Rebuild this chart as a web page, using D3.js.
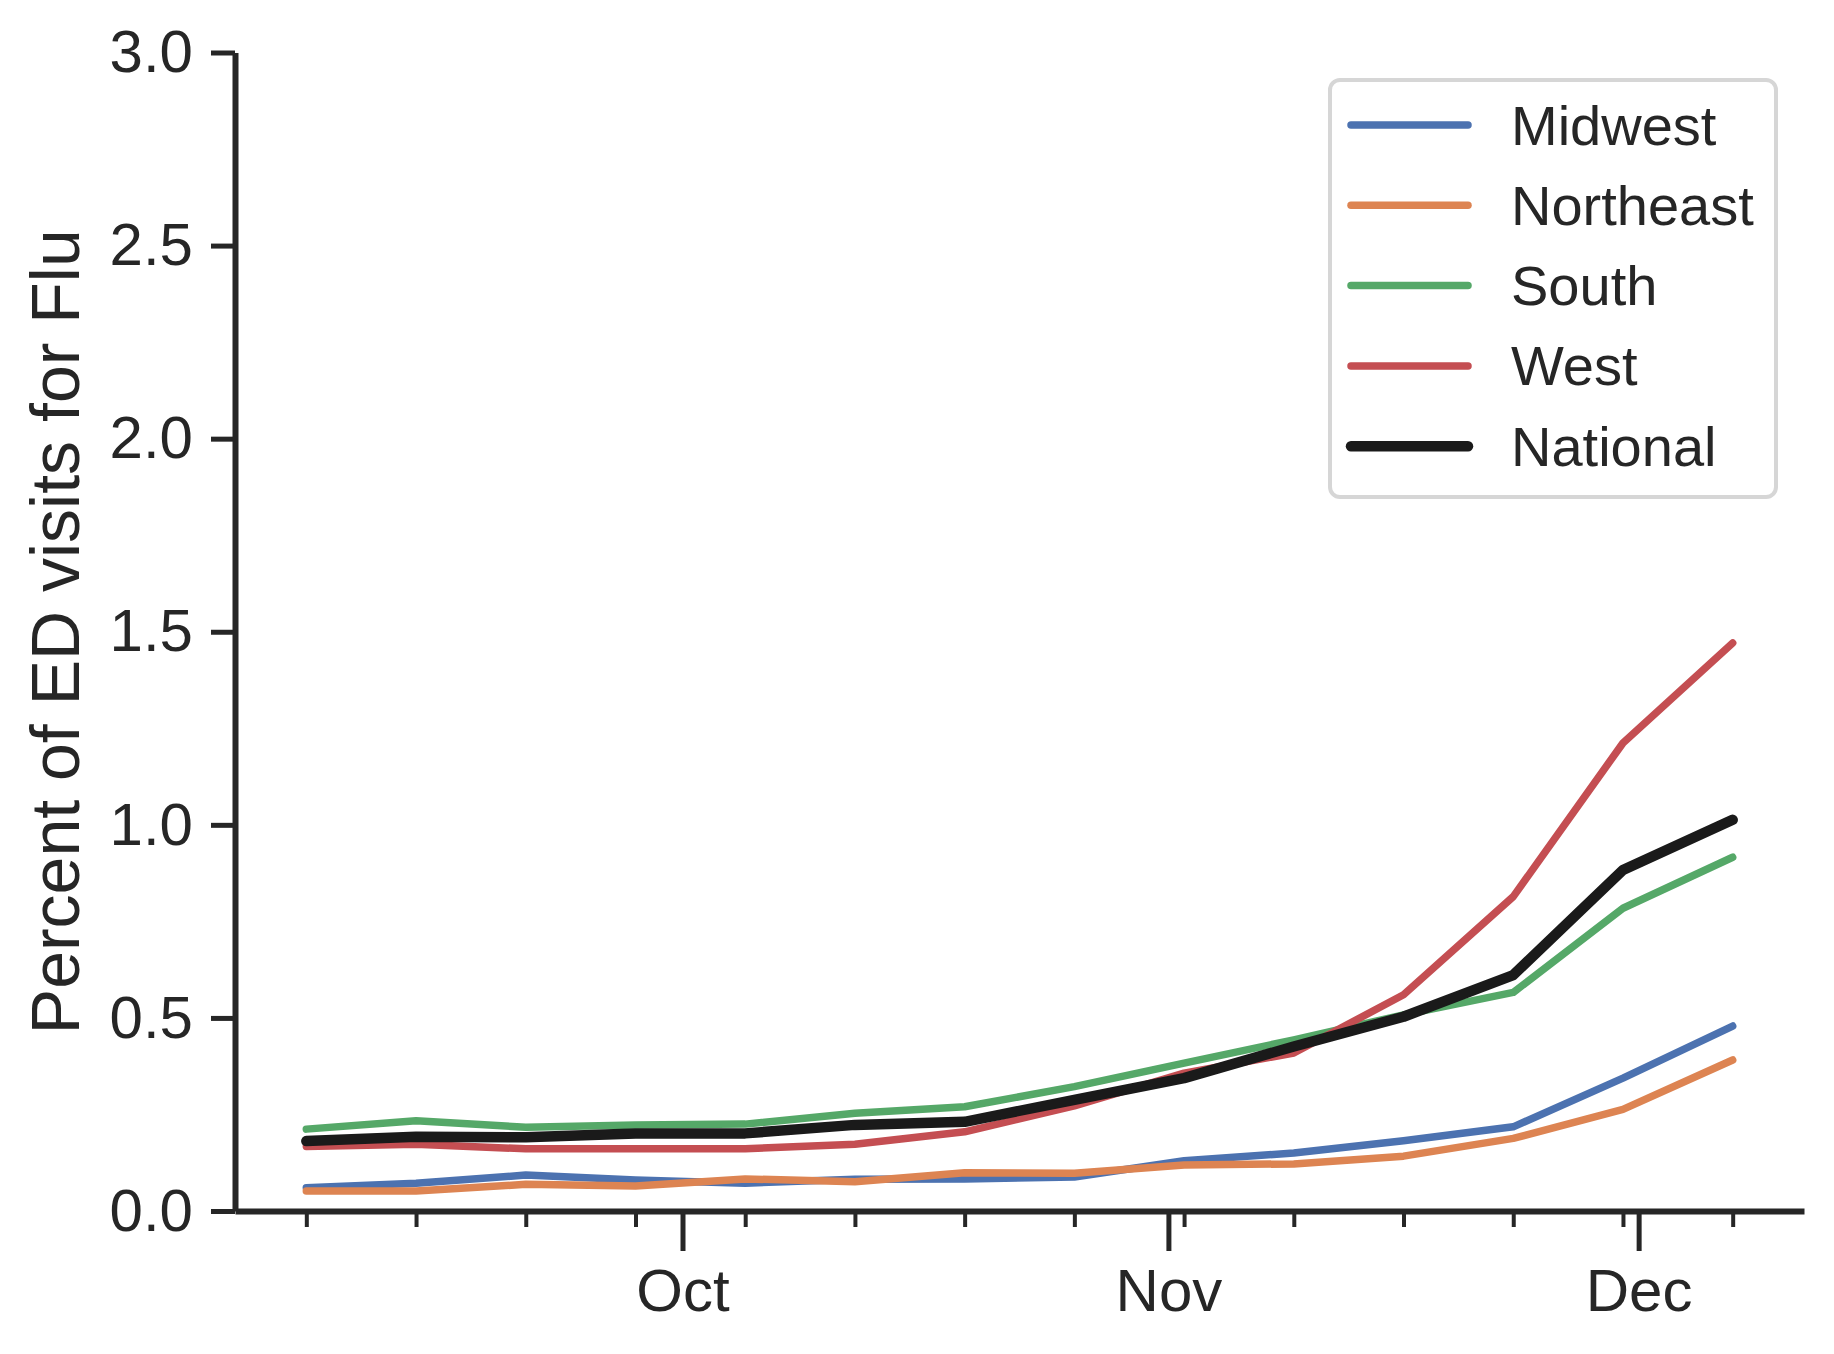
<!DOCTYPE html>
<html>
<head>
<meta charset="utf-8">
<script src="https://cdn.jsdelivr.net/npm/d3@7"></script>
<style>
  body { margin: 0; background: #fff; }
  svg { display: block; font-family: "Liberation Sans", Arial, sans-serif; }
</style>
</head>
<body>
<div id="chart"></div>
<script>
const width = 1834, height = 1354;

// weekly dates of the points
const weeks = ["2024-09-07", "2024-09-14", "2024-09-21", "2024-09-28", "2024-10-05", "2024-10-12", "2024-10-19",
               "2024-10-26", "2024-11-02", "2024-11-09", "2024-11-16", "2024-11-23", "2024-11-30", "2024-12-07"];
const monthTicks = ["2024-10-01", "2024-11-01", "2024-12-01"];
const yTicks = [0, 0.5, 1.0, 1.5, 2.0, 2.5, 3.0];

const regions = ["Midwest", "Northeast", "South", "West", "National"];
const midwest   = [0.060, 0.072, 0.093, 0.080, 0.072, 0.082, 0.083, 0.088, 0.130, 0.150, 0.182, 0.218, 0.344, 0.479];
const northeast = [0.052, 0.052, 0.069, 0.065, 0.083, 0.076, 0.099, 0.098, 0.119, 0.122, 0.142, 0.188, 0.263, 0.391];
const south     = [0.212, 0.234, 0.217, 0.223, 0.225, 0.253, 0.270, 0.322, 0.383, 0.443, 0.508, 0.566, 0.784, 0.916];
const west      = [0.167, 0.173, 0.161, 0.161, 0.161, 0.173, 0.205, 0.272, 0.357, 0.409, 0.560, 0.814, 1.212, 1.471];
const national  = [0.181, 0.192, 0.191, 0.201, 0.201, 0.223, 0.231, 0.288, 0.344, 0.426, 0.503, 0.611, 0.883, 1.013];

const colors = ["#4C72B0", "#DD8452", "#55A868", "#C44E52", "#1a1a1a"];
const widths = [7.5, 7.5, 7.5, 7.5, 10.5];
const textColor = "#262626";

const parse = d3.utcParse("%Y-%m-%d");
const dates = weeks.map(parse);
const series = [midwest, northeast, south, west, national].map((vals, i) => ({
    name: regions[i],
    color: colors[i],
    width: widths[i],
    values: vals.map((v, j) => ({ date: dates[j], value: v }))
}));

const margin = { left: 235, right: 30, top: 52.5, bottom: 143 };

// matplotlib style 5% margin on the time axis
const pad = (dates[dates.length - 1] - dates[0]) * 0.05;
const x = d3.scaleUtc()
    .domain([new Date(+dates[0] - pad), new Date(+dates[dates.length - 1] + pad)])
    .range([margin.left, width - margin.right]);

const y = d3.scaleLinear()
    .domain([0, 3])
    .range([height - margin.bottom, margin.top]);

const svg = d3.select("#chart").append("svg")
    .attr("width", width)
    .attr("height", height);

// lines
const line = d3.line()
    .x(d => x(d.date))
    .y(d => y(d.value));

svg.append("g")
    .selectAll("path")
    .data(series)
    .enter().append("path")
    .attr("d", d => line(d.values))
    .attr("fill", "none")
    .attr("stroke", d => d.color)
    .attr("stroke-width", d => d.width)
    .attr("stroke-linecap", "round")
    .attr("stroke-linejoin", "round");

// y axis
const yAxis = svg.append("g")
    .attr("transform", `translate(${margin.left},0)`)
    .call(d3.axisLeft(y).tickValues(yTicks).tickFormat(d3.format(".1f"))
        .tickSize(24).tickSizeOuter(0).tickPadding(18));

// minor weekly ticks
const xMinor = svg.append("g")
    .attr("transform", `translate(0,${y(0)})`)
    .call(d3.axisBottom(x).tickValues(dates).tickFormat("").tickSize(16).tickSizeOuter(0));
xMinor.select(".domain").remove();
xMinor.selectAll(".tick line").attr("stroke", textColor).attr("stroke-width", 4);

// month ticks
const xAxis = svg.append("g")
    .attr("transform", `translate(0,${y(0)})`)
    .call(d3.axisBottom(x).tickValues(monthTicks.map(parse)).tickFormat(d3.utcFormat("%b"))
        .tickSize(40).tickSizeOuter(0).tickPadding(17));

[yAxis, xAxis].forEach(g => {
    g.select(".domain").attr("stroke", textColor).attr("stroke-width", 6);
    g.selectAll(".tick line").attr("stroke", textColor).attr("stroke-width", 5);
    g.selectAll(".tick text").attr("fill", textColor).style("font-size", "60px");
});

// y label
svg.append("text")
    .attr("transform", `translate(55,${(y(0) + y(3)) / 2}) rotate(-90)`)
    .attr("text-anchor", "middle")
    .attr("dominant-baseline", "central")
    .attr("fill", textColor)
    .style("font-size", "68px")
    .text("Percent of ED visits for Flu");

// legend
const legend = svg.append("g").attr("transform", "translate(1330,80)");
legend.append("rect")
    .attr("width", 446)
    .attr("height", 417)
    .attr("rx", 10)
    .attr("fill", "#fff")
    .attr("fill-opacity", 0.8)
    .attr("stroke", "#d6d6d6")
    .attr("stroke-width", 4);

const item = legend.selectAll(".item")
    .data(series)
    .enter().append("g")
    .attr("class", "item")
    .attr("transform", (d, i) => `translate(0,${45 + i * 80.3})`);

item.append("line")
    .attr("x1", 21).attr("x2", 138)
    .attr("stroke", d => d.color)
    .attr("stroke-width", d => d.width)
    .attr("stroke-linecap", "round");

item.append("text")
    .attr("x", 181)
    .attr("dominant-baseline", "central")
    .attr("fill", textColor)
    .style("font-size", "56px")
    .text(d => d.name);
</script>
</body>
</html>
